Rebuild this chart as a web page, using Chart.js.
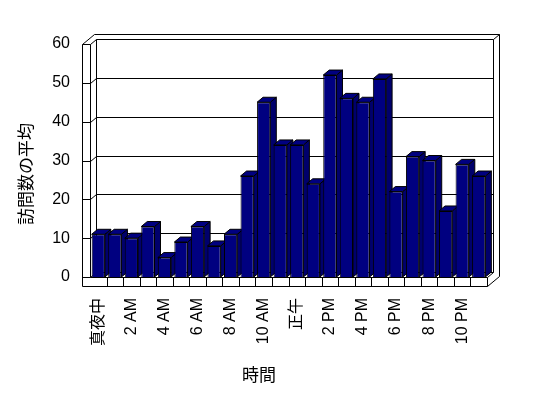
<!DOCTYPE html>
<html>
<head>
<meta charset="utf-8">
<script src="https://cdn.jsdelivr.net/npm/chart.js@4"></script>
<style>
  html, body { margin: 0; padding: 0; background: #fff; }
  #wrap { width: 548px; height: 398px; }
</style>
</head>
<body>
<div id="wrap"><canvas id="chart" width="548" height="398"></canvas></div>
<script>
// hours of the day (only every second one is labelled)
const hours = [
  "真夜中", "1 AM", "2 AM", "3 AM", "4 AM", "5 AM", "6 AM", "7 AM", "8 AM", "9 AM", "10 AM", "11 AM",
  "正午", "1 PM", "2 PM", "3 PM", "4 PM", "5 PM", "6 PM", "7 PM", "8 PM", "9 PM", "10 PM", "11 PM"
];
// average number of visits per hour
const visits = [11, 11, 10, 13, 5, 9, 13, 8, 11, 26, 45, 34, 34, 24, 52, 46, 45, 51, 22, 31, 30, 17, 29, 26];
const yTicks = [0, 10, 20, 30, 40, 50, 60];

const yTitle = "訪問数の平均";
const xTitle = "時間";

const FONT = "'Liberation Sans', 'Noto Sans CJK JP', sans-serif";
const DX = 6, DY = -5;   // depth of the 3d box

function line(ctx, x1, y1, x2, y2) {
  ctx.beginPath();
  ctx.moveTo(x1, y1);
  ctx.lineTo(x2, y2);
  ctx.stroke();
}

const box3d = {
  id: "box3d",
  beforeDatasetsDraw(c) {
    const ctx = c.ctx;
    const a = c.chartArea;
    const ys = c.scales.y;
    const L = a.left, R = a.right, T = a.top, B = a.bottom;
    ctx.save();
    ctx.strokeStyle = "#000";
    ctx.lineWidth = 1;
    ctx.translate(0.5, 0.5);

    // back wall + gridlines
    yTicks.forEach(v => {
      const y = Math.round(ys.getPixelForValue(v));
      line(ctx, L + DX, y + DY, R + DX, y + DY);
      line(ctx, L - 8, y, L, y);
      line(ctx, L, y, L + DX, y + DY);
    });
    line(ctx, L + DX, T + DY, L + DX, B + DY);
    line(ctx, R + DX, T + DY, R + DX, B + DY);
    line(ctx, R, B, R + DX, B + DY);

    // outer frame
    line(ctx, L - 8, T, L - 8, B + 9);
    line(ctx, L - 8, B + 9, R, B + 9);
    line(ctx, L, T, L, B);
    line(ctx, L, B, R, B);
    line(ctx, L - 8, T, L + 4, T - 10);
    line(ctx, L + 4, T - 10, R + 12, T - 10);
    line(ctx, R + 12, T - 10, R + 12, B - 1);
    line(ctx, R + DX, T + DY, R + 12, T - 10);
    line(ctx, R, B + 9, R + 12, B - 1);
    line(ctx, R, B, R, B + 9);

    // floor divisions
    const cw = (R - L) / hours.length;
    for (let i = 1; i < hours.length; i++) {
      const x = Math.round(L + i * cw);
      line(ctx, x, B, x, B + 9);
    }
    ctx.restore();

    // tops and sides of the bars
    ctx.save();
    ctx.strokeStyle = "#000";
    ctx.lineWidth = 1;
    c.getDatasetMeta(0).data.forEach(bar => {
      const xl = bar.x - bar.width / 2, xr = bar.x + bar.width / 2;
      const y = bar.y, base = bar.base;
      ctx.fillStyle = "#00006c";
      ctx.beginPath();
      ctx.moveTo(xr, y);
      ctx.lineTo(xr + DX, y + DY);
      ctx.lineTo(xr + DX, base + DY);
      ctx.lineTo(xr, base);
      ctx.closePath();
      ctx.fill();
      ctx.stroke();
      ctx.fillStyle = "#000080";
      ctx.beginPath();
      ctx.moveTo(xl, y);
      ctx.lineTo(xl + DX, y + DY);
      ctx.lineTo(xr + DX, y + DY);
      ctx.lineTo(xr, y);
      ctx.closePath();
      ctx.fill();
      ctx.stroke();
    });
    ctx.restore();
  },
  afterDraw(c) {
    const ctx = c.ctx;
    ctx.save();
    ctx.fillStyle = "#000";
    ctx.font = "17px " + FONT;
    ctx.textAlign = "center";
    ctx.textBaseline = "middle";
    ctx.fillText(xTitle, 259, 376);
    ctx.translate(27, 174);
    ctx.rotate(-Math.PI / 2);
    ctx.fillText(yTitle, 0, 0);
    ctx.restore();
  }
};

new Chart(document.getElementById("chart"), {
  type: "bar",
  data: {
    labels: hours,
    datasets: [{
      data: visits,
      backgroundColor: "#000080",
      borderColor: "#000",
      borderWidth: 1,
      barPercentage: 0.8,
      categoryPercentage: 1
    }]
  },
  options: {
    responsive: false,
    animation: false,
    layout: { padding: { left: 0, right: 61, top: 44, bottom: 0 } },
    plugins: { legend: { display: false }, tooltip: { enabled: false } },
    scales: {
      x: {
        grid: { display: false, drawTicks: false },
        border: { display: false },
        ticks: {
          autoSkip: false,
          minRotation: 90,
          maxRotation: 90,
          padding: 21,
          color: "#000",
          font: { family: FONT, size: 16 },
          callback: (v, i) => (i % 2 === 0 ? hours[i] : "")
        },
        afterFit: s => { s.height = 121; }
      },
      y: {
        min: 0,
        max: 60,
        grid: { display: false, drawTicks: false },
        border: { display: false },
        ticks: {
          stepSize: 10,
          padding: 20,
          color: "#000",
          font: { family: FONT, size: 16 }
        },
        afterFit: s => { s.width = 90; }
      }
    }
  },
  plugins: [box3d]
});
</script>
</body>
</html>
